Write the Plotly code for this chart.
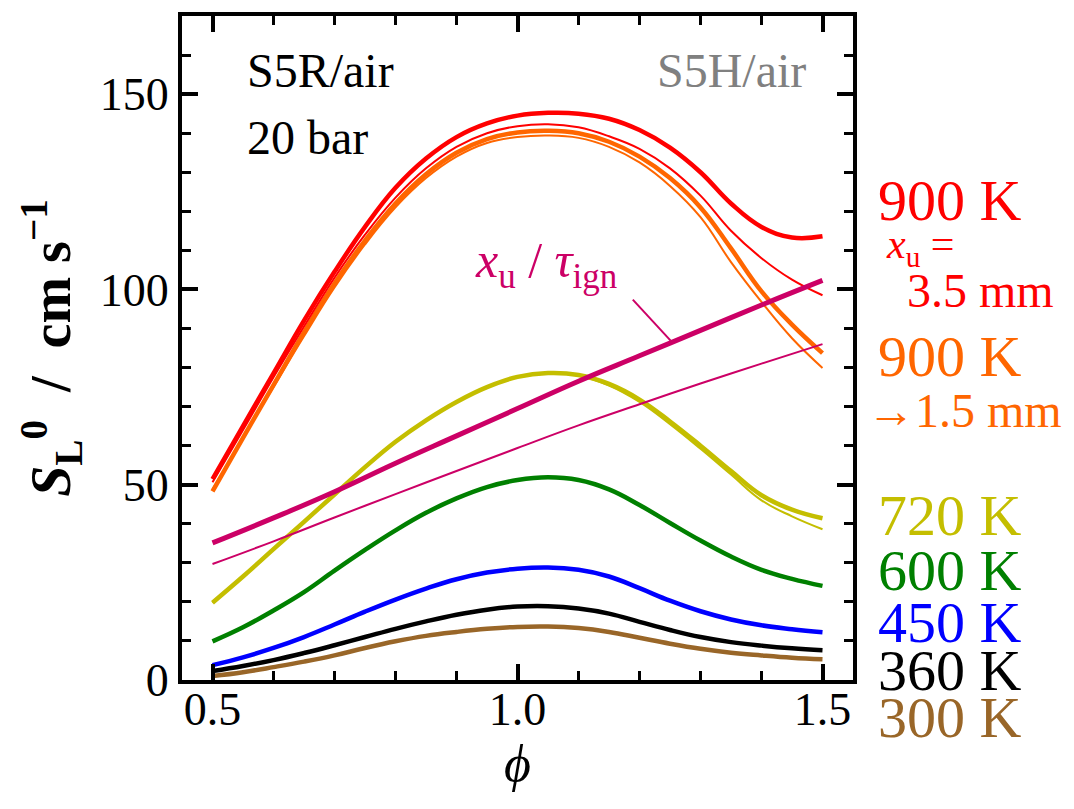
import plotly.graph_objects as go

# ---------------- data ----------------
PHI = [0.5, 0.55, 0.6, 0.65, 0.7, 0.75, 0.8, 0.85, 0.9, 0.95, 1.0,
       1.05, 1.1, 1.15, 1.2, 1.25, 1.3, 1.35, 1.4, 1.45, 1.5]

# S5R (thick) and S5H (thin), 900 K, x_u = 3.5 mm
red_thick = [51.4, 65, 78.5, 92, 104.5, 116, 126, 133.5, 139, 142.5, 144.5,
             145.2, 145, 143.7, 140.8, 136.3, 130, 122, 116, 113.3, 113.6]
red_thin = [50.6, 64, 77.5, 90.5, 103, 114, 123.5, 131, 136.5, 140, 141.8,
            142.3, 141.5, 139.2, 136, 131, 124, 115, 108, 102.5, 98.5]
# 900 K, x_u -> 1.5 mm
orange_thick = [48.3, 62, 75.5, 89, 101.5, 112.5, 122, 129.5, 135, 138.5, 140.2,
                140.6, 140, 137.8, 134, 128.5, 121, 110.5, 99.5, 91, 83.7]
orange_thin = [48.8, 62, 75, 88, 100.5, 111.5, 121, 128.5, 134, 137.5, 139,
               139.4, 138.8, 136.5, 132.5, 126.5, 118.5, 107, 96.8, 87.5, 79.9]
yellow_thick = [19.8, 26.5, 33.5, 40.5, 47.5, 54.5, 61, 66.5, 71.2, 75, 77.6,
                78.6, 78.1, 75.8, 71.8, 66.2, 60, 53.5, 47.3, 43.6, 41.4]
yellow_thin = [19.8, 26.5, 33.5, 40.5, 47.5, 54.5, 61, 66.5, 71.2, 75, 77.6,
               78.5, 77.9, 75.4, 71.2, 65.5, 59.2, 52.6, 46, 41.9, 38.6]
green = [9.9, 13.5, 17.8, 22.5, 28, 33.3, 38.3, 42.8, 46.5, 49.4, 51.2,
         51.9, 51.2, 48.8, 44.8, 40.2, 35.7, 31.6, 28.2, 25.9, 24.1]
blue = [3.8, 5.8, 8.2, 11, 14.2, 17.5, 20.6, 23.4, 25.8, 27.5, 28.5,
        28.8, 28.2, 26.5, 23.5, 20.3, 17.6, 15.5, 14, 13, 12.2]
black = [2.3, 3.6, 5.1, 6.9, 8.9, 11, 13.1, 15, 16.7, 18, 18.8,
         18.9, 18.3, 17, 14.9, 12.8, 11, 9.7, 8.8, 8.1, 7.6]
brown = [1.0, 2.0, 3.3, 4.7, 6.3, 8.2, 9.9, 11.3, 12.3, 13.1, 13.6,
         13.7, 13.3, 12.3, 10.8, 9.3, 8.0, 7.0, 6.3, 5.7, 5.3]

PHI_X = [0.5, 0.6, 0.7, 0.8, 0.9, 1.0, 1.1, 1.2, 1.3, 1.4, 1.5]
xtau_thick = [35.1, 41.5, 48.2, 55.5, 62.5, 69.5, 76.5, 83, 89.5, 96, 102.3]
xtau_thin = [29.7, 35.5, 41.6, 47.6, 53.5, 59.4, 65.2, 70.6, 75.9, 81, 86]

LEADER_PHI = [1.189, 1.251]
LEADER_V = [97.4, 86.9]

X_TICKS = [0.5, 1.0, 1.5]
X_TICKTEXT = ["0.5", "1.0", "1.5"]
Y_TICKS = [0, 50, 100, 150]

RED = "#FF0000"
ORANGE = "#FF6600"
YELLOW = "#C4BE00"
GREEN = "#008000"
BLUE = "#0000FF"
BLACK = "#000000"
BROWN = "#996628"
MAGENTA = "#CC0066"
GRAY = "#808080"

FONT = "Liberation Serif"
THICK = 4.5
THIN = 2

fig = go.Figure()

def add(x, y, color, width):
    fig.add_trace(go.Scatter(x=x, y=y, mode="lines",
                             line=dict(color=color, width=width, shape="spline", smoothing=1.2),
                             showlegend=False, hoverinfo="skip"))

add(PHI, brown, BROWN, THICK)
add(PHI, black, BLACK, THICK)
add(PHI, blue, BLUE, THICK)
add(PHI, green, GREEN, THICK)
add(PHI, yellow_thin, YELLOW, THIN)
add(PHI, yellow_thick, YELLOW, THICK)
add(PHI, orange_thin, ORANGE, THIN)
add(PHI, orange_thick, ORANGE, THICK)
add(PHI, red_thin, RED, THIN)
add(PHI, red_thick, RED, THICK)
add(PHI_X, xtau_thin, MAGENTA, THIN)
add(PHI_X, xtau_thick, MAGENTA, THICK + 0.5)
fig.add_trace(go.Scatter(x=LEADER_PHI, y=LEADER_V, mode="lines",
                         line=dict(color=MAGENTA, width=2), showlegend=False, hoverinfo="skip"))

ann = []
def text(x, y, s, color, size, xanchor="left", xref="x", yref="y"):
    ann.append(dict(x=x, y=y, xref=xref, yref=yref, text=s, showarrow=False,
                    xanchor=xanchor, yanchor="middle",
                    font=dict(family=FONT, size=size, color=color)))

text(0.553, 156, "S5R/air", BLACK, 48)
text(0.553, 139, "20 bar", BLACK, 48)
text(1.476, 156, "S5H/air", GRAY, 48, xanchor="right")
text(1.046, 106.5, "<i>x</i><sub>u</sub> / <i>τ</i><sub>ign</sub>", MAGENTA, 50, xanchor="center")

text(1.035, 0.7216, "900 K", RED, 58, xref="paper", yref="paper")
text(1.046, 0.652, "<i>x</i><sub>u</sub> =", RED, 42, xref="paper", yref="paper")
text(1.077, 0.586, "3.5 mm", RED, 48, xref="paper", yref="paper")
text(1.035, 0.4865, "900 K", ORANGE, 58, xref="paper", yref="paper")
text(1.018, 0.406, "→1.5 mm", ORANGE, 48, xref="paper", yref="paper")
text(1.035, 0.247, "720 K", YELLOW, 58, xref="paper", yref="paper")
text(1.035, 0.1647, "600 K", GREEN, 58, xref="paper", yref="paper")
text(1.035, 0.0868, "450 K", BLUE, 58, xref="paper", yref="paper")
text(1.035, 0.015, "360 K", BLACK, 58, xref="paper", yref="paper")
text(1.035, -0.0569, "300 K", BROWN, 58, xref="paper", yref="paper")

axis_common = dict(showline=True, linecolor="black", linewidth=4, mirror="ticks",
                   ticks="inside", ticklen=16, tickwidth=3.5, tickcolor="black",
                   showgrid=False, zeroline=False,
                   tickfont=dict(family=FONT, size=46, color="black"))

fig.update_layout(
    width=1074, height=809,
    margin=dict(l=182, r=221, t=12, b=129),
    plot_bgcolor="white", paper_bgcolor="white",
    annotations=ann,
    xaxis=dict(range=[0.45, 1.55], tickvals=X_TICKS, ticktext=X_TICKTEXT,
               ticklabelstandoff=-14,
               minor=dict(ticks="inside", ticklen=9, tickwidth=3, dtick=0.1, tick0=0.5,
                          tickcolor="black", showgrid=False),
               title=dict(text="<i>ϕ</i>", font=dict(family=FONT, size=52, color="black"), standoff=6),
               **axis_common),
    yaxis=dict(range=[0, 170], tickvals=Y_TICKS,
               minor=dict(ticks="inside", ticklen=9, tickwidth=3, dtick=10, tick0=0,
                          tickcolor="black", showgrid=False),
               title=dict(text="<b><i>S</i><sub>L</sub><sup>0</sup>  /  cm s<sup>−1</sup></b>",
                          font=dict(family=FONT, size=56, color="black"), standoff=12),
               **axis_common),
)

fig.write_html("out.html", config={"displayModeBar": False},
               post_script="document.body.style.margin='0';")
